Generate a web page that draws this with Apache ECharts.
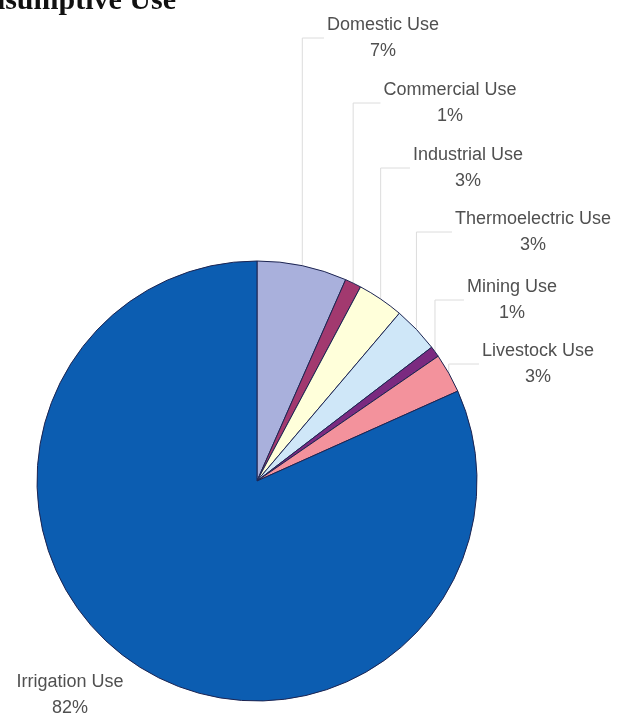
<!DOCTYPE html>
<html>
<head>
<meta charset="utf-8">
<script src="https://cdn.jsdelivr.net/npm/echarts@6/dist/echarts.min.js"></script>
<style>
  html, body { margin: 0; padding: 0; background: #ffffff; }
  #chart { width: 619px; height: 717px; }
</style>
</head>
<body>
<div id="chart"></div>
<script>
// ---- data ----
const categories = ['Domestic Use', 'Commercial Use', 'Industrial Use', 'Thermoelectric Use', 'Mining Use', 'Livestock Use', 'Irrigation Use'];
const values = [6.6, 1.2, 3.4, 3.4, 0.8, 2.9, 81.7];
const titleText = 'Consumptive Use';

// ---- styles / layout (kept apart from data) ----
const colors = ['#A9B0DC', '#A2396F', '#FFFFDA', '#CFE7F8', '#7B2A80', '#F3929C', '#0C5DB1'];
const labelCenters = [[383, 38], [450, 103], [468, 168], [533, 232], [512, 300], [538, 364], [70, 695]];
const labelFont = '18px "Liberation Sans", Arial, sans-serif';

const measureCtx = document.createElement('canvas').getContext('2d');
measureCtx.font = labelFont;
function textWidth(s) { return measureCtx.measureText(s).width; }

const chart = echarts.init(document.getElementById('chart'), null, { renderer: 'canvas' });

const option = {
  backgroundColor: '#ffffff',
  animation: false,
  graphic: [{
    type: 'text',
    x: 176,
    y: 1,
    style: {
      text: titleText,
      font: 'bold 30px "Liberation Serif", "Times New Roman", serif',
      fill: '#111111',
      align: 'right',
      verticalAlign: 'middle'
    }
  }],
  series: [{
    type: 'pie',
    center: [257, 481],
    radius: 220,
    startAngle: 90,
    clockwise: true,
    itemStyle: { borderColor: '#1d2552', borderWidth: 1 },
    label: {
      show: true,
      position: 'outside',
      color: '#505050',
      fontFamily: '"Liberation Sans", Arial, sans-serif',
      fontSize: 18,
      lineHeight: 26,
      align: 'center',
      overflow: 'none',
      width: 300,
      formatter: p => p.name + '\n' + Math.round(p.percent) + '%'
    },
    labelLine: {
      show: true,
      length: 10,
      length2: 10,
      lineStyle: { color: '#dcdcdc', width: 1 }
    },
    labelLayout: function (params) {
      const i = params.dataIndex;
      const c = labelCenters[i];
      const w = textWidth(categories[i]);
      const res = { x: c[0], y: c[1], align: 'center', verticalAlign: 'middle' };
      const pts = params.labelLinePoints;
      if (pts && i < 6) {
        const p0 = pts[0];
        res.labelLinePoints = [[p0[0], p0[1]], [p0[0], c[1]], [c[0] - w / 2 - 3, c[1]]];
      }
      return res;
    },
    data: categories.map((n, i) => ({
      name: n,
      value: values[i],
      itemStyle: { color: colors[i] },
      labelLine: { show: i < 6 }
    }))
  }]
};
chart.setOption(option);
</script>
</body>
</html>
